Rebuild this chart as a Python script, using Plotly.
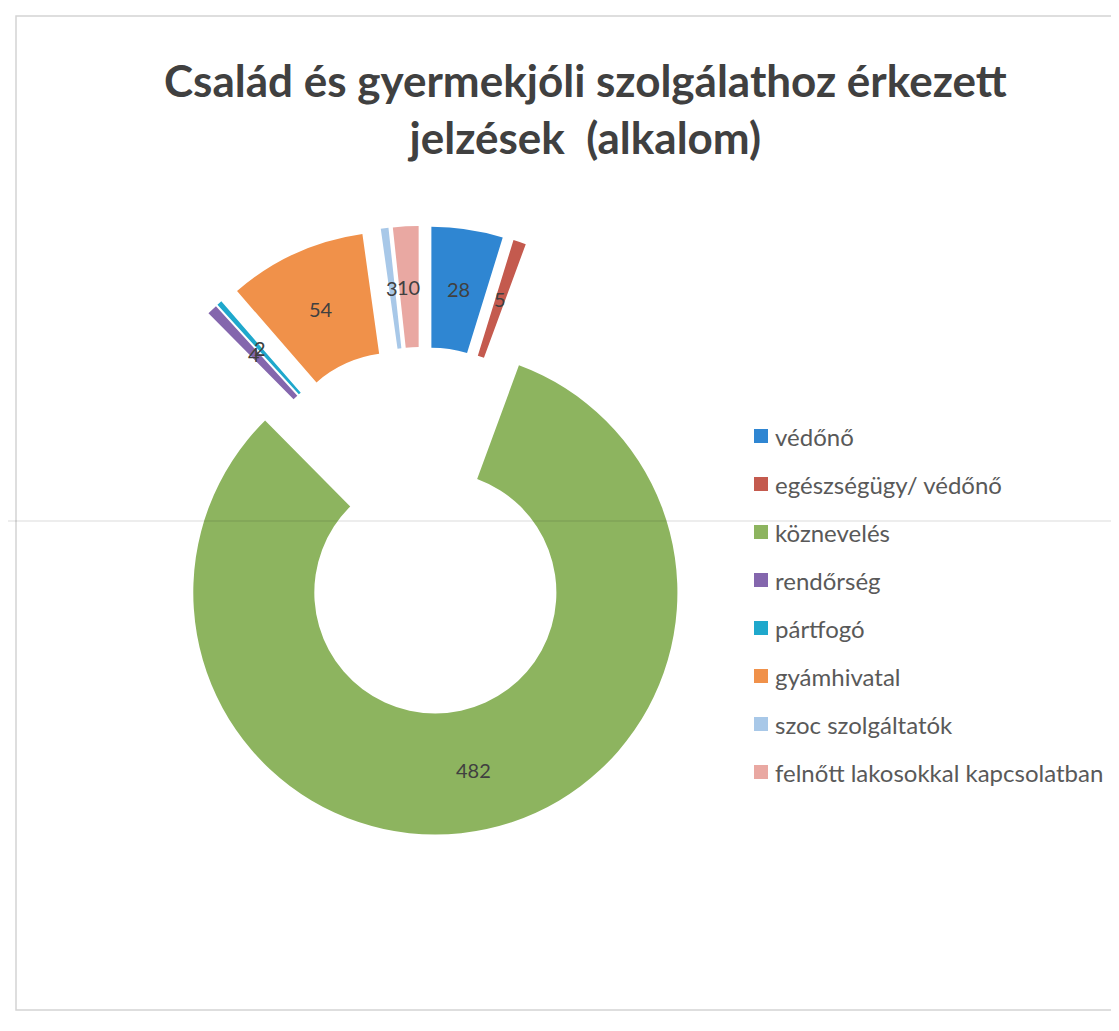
import math
import plotly.graph_objects as go

# data
labels = ["védőnő", "egészségügy/ védőnő", "köznevelés", "rendőrség",
          "pártfogó", "gyámhivatal", "szoc szolgáltatók",
          "felnőtt lakosokkal kapcsolatban"]
values = [28, 5, 482, 4, 2, 54, 3, 10]
colors = ["#2f86d2", "#c45a4e", "#8db45f", "#8466ad",
          "#1fa8cc", "#f0914a", "#a8c8e8", "#e9a8a2"]

title = "Család és gyermekjóli szolgálathoz érkezett<br>jelzések  (alkalom)"

W, H = 1119, 1031
PULL = 0.26
HOLE = 0.5
# pie box in pixels (left, top, size)
BOX_L, BOX_T, BOX_S = 109, 218, 610


def px(x):
    return x / W


def py(y):
    return 1 - y / H


fig = go.Figure()

fig.add_trace(go.Pie(
    labels=labels,
    values=values,
    marker=dict(colors=colors, line=dict(width=0)),
    hole=HOLE,
    pull=PULL,
    sort=False,
    direction="clockwise",
    rotation=0,
    textinfo="none",
    domain=dict(x=[px(BOX_L), px(BOX_L + BOX_S)], y=[py(BOX_T + BOX_S), py(BOX_T)]),
    showlegend=False,
))

annotations = []
shapes = []

# value labels in the middle of each (exploded) ring segment, like Excel does
cx = BOX_L + BOX_S / 2
cy = BOX_T + BOX_S / 2
R = BOX_S / (2 + 2 * PULL)
total = sum(values)
cum = 0
for v in values:
    mid = (cum + v / 2) / total * 2 * math.pi
    cum += v
    rr = R * (PULL + (1 + HOLE) / 2)
    annotations.append(dict(text=str(v), xref="paper", yref="paper",
                            x=px(cx + rr * math.sin(mid)),
                            y=py(cy - rr * math.cos(mid)),
                            xanchor="center", yanchor="middle", showarrow=False,
                            font=dict(family="Lato", size=20, color="#404040")))

# legend drawn by hand so the row spacing matches
for i, (lab, col) in enumerate(zip(labels, colors)):
    yc = 428 + i * 48
    shapes.append(dict(type="rect", xref="paper", yref="paper",
                       x0=px(746), x1=px(760), y0=py(yc + 7), y1=py(yc - 7),
                       fillcolor=col, line=dict(width=0)))
    annotations.append(dict(text=lab, xref="paper", yref="paper",
                            x=px(765), y=py(yc), xanchor="left", yanchor="middle",
                            showarrow=False,
                            font=dict(family="Lato", size=24, color="#595959")))

# title
annotations.append(dict(text=title, xref="paper", yref="paper",
                        x=px(577), y=py(100), xanchor="center", yanchor="middle",
                        showarrow=False,
                        font=dict(family="Lato", size=44, color="#404040",
                                  weight="bold")))

# chart border and the scan fold line
shapes.append(dict(type="rect", xref="paper", yref="paper",
                   x0=px(8), x1=px(1116), y0=py(1002), y1=py(8),
                   line=dict(color="#d4d4d4", width=1.5), layer="below"))
shapes.append(dict(type="line", xref="paper", yref="paper",
                   x0=0, x1=1, y0=py(513), y1=py(513),
                   line=dict(color="rgba(30,30,30,0.08)", width=2)))

fig.update_layout(
    width=W, height=H,
    margin=dict(l=0, r=0, t=0, b=0),
    paper_bgcolor="white",
    plot_bgcolor="white",
    annotations=annotations,
    shapes=shapes,
)

fig.write_html("out.html")
